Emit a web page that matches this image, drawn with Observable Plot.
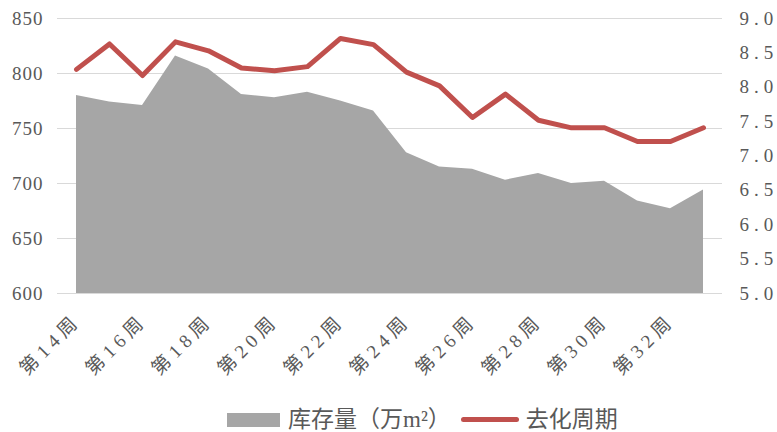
<!DOCTYPE html>
<html>
<head>
<meta charset="utf-8">
<script src="https://cdn.jsdelivr.net/npm/d3@7"></script>
<script src="https://cdn.jsdelivr.net/npm/@observablehq/plot@0.6"></script>
<style>
  html, body { margin: 0; padding: 0; background: #fff; }
  #wrap { width: 777px; height: 432px; position: relative; overflow: hidden; }
  #legend { position: absolute; left: 227px; top: 407px; height: 25px; line-height: 25px; display: flex; align-items: center;
    font-family: "Liberation Serif", "Noto Sans CJK SC", serif; font-size: 23px; color: #595959; white-space: nowrap; }
  .sw-area { width: 53px; height: 14px; background: #a6a6a6; margin-right: 8px; }
  .sw-line { width: 58px; height: 5px; background: #c0504d; border-radius: 3px; margin-left: 10px; margin-right: 7px; }
</style>
</head>
<body>
<div id="wrap"><div id="chart"></div>
<div id="legend"><span class="sw-area"></span><span>库存量（万m²）</span><span class="sw-line"></span><span>去化周期</span></div>
</div>
<script>
const weeks = ["第14周","第15周","第16周","第17周","第18周","第19周","第20周","第21周","第22周","第23周",
               "第24周","第25周","第26周","第27周","第28周","第29周","第30周","第31周","第32周","第33周"];
const inventory = [780, 774, 771, 816, 804, 781, 778, 783, 775, 766, 728, 715, 713, 703, 709, 700, 702, 684, 677, 694];
const cycle = [8.26, 8.63, 8.17, 8.66, 8.53, 8.28, 8.24, 8.30, 8.71, 8.62, 8.22, 8.02, 7.56, 7.90, 7.52, 7.41, 7.41, 7.21, 7.21, 7.41];
const leftTicks = [600, 650, 700, 750, 800, 850];
const rightTicks = [5.0, 5.5, 6.0, 6.5, 7.0, 7.5, 8.0, 8.5, 9.0];
const xTickLabels = ["第14周","第16周","第18周","第20周","第22周","第24周","第26周","第28周","第30周","第32周"];

const leftDomain = [600, 850];
const rightDomain = [5, 9];
const toLeft = v => leftDomain[0] + (v - rightDomain[0]) * (leftDomain[1] - leftDomain[0]) / (rightDomain[1] - rightDomain[0]);

const data = weeks.map((w, i) => ({week: w, inv: inventory[i], cyc: toLeft(cycle[i])}));

const font = '"Liberation Serif", "Noto Sans CJK SC", serif';
const chart = Plot.plot({
  width: 777,
  height: 404,
  marginTop: 18,
  marginBottom: 111,
  marginLeft: 57,
  marginRight: 55,
  style: {fontFamily: font, color: "#595959", background: "#fff"},
  x: {type: "point", domain: weeks, padding: 0.5, axis: null},
  y: {domain: leftDomain, axis: null},
  marks: [
    Plot.gridY(leftTicks, {stroke: "#d9d9d9", strokeOpacity: 1, strokeWidth: 1}),
    Plot.areaY(data, {x: "week", y1: leftDomain[0], y2: "inv", fill: "#a6a6a6", curve: "linear"}),
    Plot.lineY(data, {x: "week", y: "cyc", stroke: "#c0504d", strokeWidth: 5, strokeLinejoin: "round", curve: "linear"}),
    Plot.axisY(leftTicks, {anchor: "left", tickSize: 0, tickPadding: 14, fontSize: 19, label: null, fill: "#595959"}),
    Plot.axisY(rightTicks.map(toLeft), {anchor: "right", tickSize: 0, tickPadding: 17, fontSize: 19, label: null,
      fill: "#595959", tickFormat: d => ((d - leftDomain[0]) * 4 / 250 + 5).toFixed(1)}),
    Plot.text(xTickLabels, {x: d => d, y: leftDomain[0], text: d => d, rotate: -45, textAnchor: "end",
      lineAnchor: "middle", dx: 1, dy: 24, fontSize: 19, fill: "#595959"})
  ]
});
const yAxes = d3.select(chart).selectAll('g[aria-label="y-axis tick label"]');
yAxes.filter((d, i) => i === 0).attr("letter-spacing", 1);
yAxes.filter((d, i) => i === 1).attr("letter-spacing", 5);
d3.select(chart).selectAll('g[aria-label="text"]').attr("letter-spacing", 5);
document.getElementById("chart").appendChild(chart);
</script>
</body>
</html>
